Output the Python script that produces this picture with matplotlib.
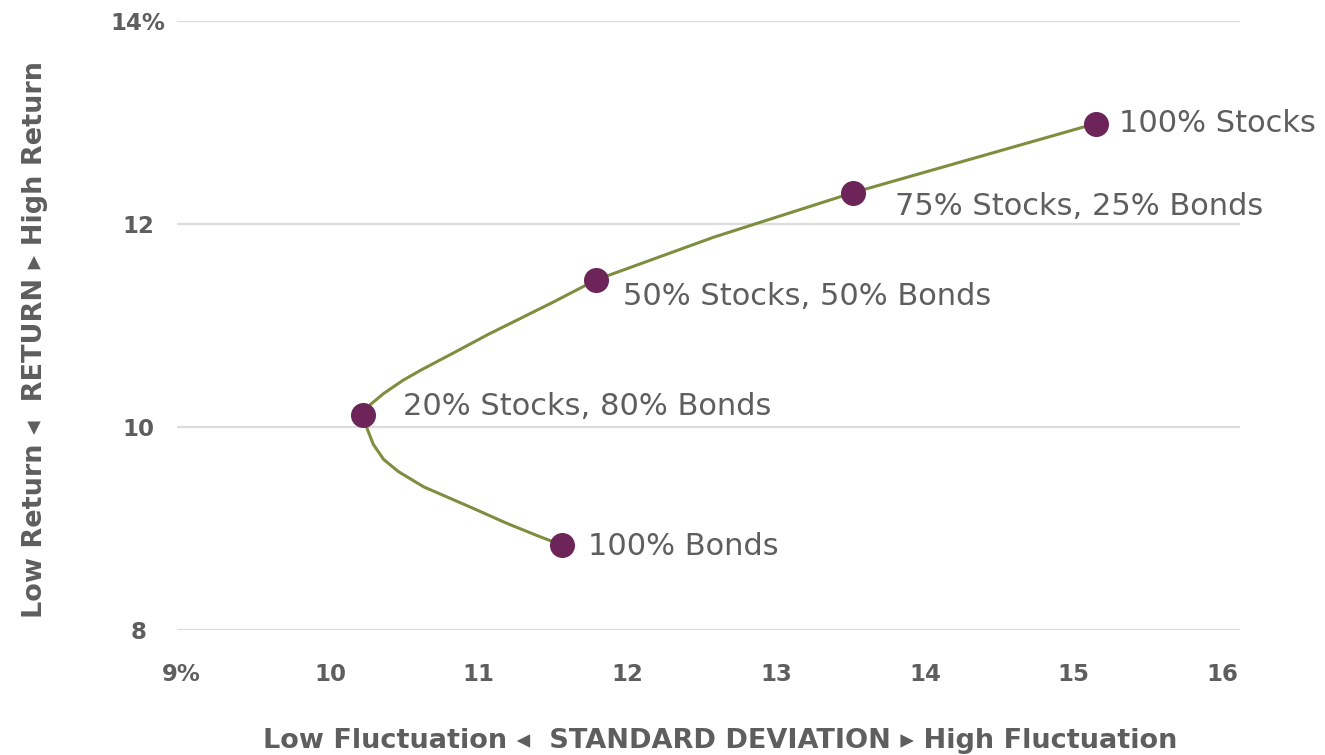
import matplotlib.pyplot as plt

# portfolio mixes (standard deviation %, return %)
labels = ["100% Bonds", "20% Stocks, 80% Bonds", "50% Stocks, 50% Bonds",
          "75% Stocks, 25% Bonds", "100% Stocks"]
mix_sd = [11.56, 10.22, 11.79, 13.52, 15.15]
mix_ret = [8.84, 10.12, 11.45, 12.31, 12.99]

# efficient frontier curve
curve_sd = [11.56, 11.50, 11.41, 11.19, 10.96, 10.74, 10.63, 10.46, 10.36,
            10.29, 10.25, 10.22, 10.27, 10.36, 10.49, 10.61, 10.83, 11.06,
            11.28, 11.50, 11.79, 12.58, 13.52, 15.15]
curve_ret = [8.84, 8.87, 8.92, 9.05, 9.20, 9.34, 9.41, 9.56, 9.68,
             9.83, 9.98, 10.12, 10.22, 10.33, 10.46, 10.56, 10.73, 10.91,
             11.07, 11.23, 11.45, 11.87, 12.31, 12.99]

xticks = [9, 10, 11, 12, 13, 14, 15, 16]
xtick_labels = ["9%", "10", "11", "12", "13", "14", "15", "16"]
yticks = [8, 10, 12, 14]
ytick_labels = ["8", "10", "12", "14%"]

# label offsets in points from each dot
offsets = [(19, -1), (29, 6), (19, -12), (30, -10), (17, 0)]

grey = "#5e5e5e"
W, H = 1325, 755
fig = plt.figure(figsize=(W / 100, H / 100), dpi=100)
ax = fig.add_axes([177 / W, 1 - 630 / H, (1240 - 177) / W, (630 - 21) / H])

ax.plot(curve_sd, curve_ret, color="#7d8f3f", lw=2.2, zorder=2,
        solid_joinstyle="round")
ax.plot(mix_sd, mix_ret, "o", color="#6c2459", ms=17, zorder=3)
for lab, x, y, off in zip(labels, mix_sd, mix_ret, offsets):
    ax.annotate(lab, (x, y), xytext=off, textcoords="offset points",
                ha="left", va="center", fontsize=22, color=grey)

ax.set_xlim(8.97, 16.12)
ax.set_ylim(8, 14)
ax.set_xticks(xticks)
ax.set_xticklabels(xtick_labels)
ax.set_yticks(yticks)
ax.set_yticklabels(ytick_labels)
ax.tick_params(length=0, labelsize=16.5, labelcolor=grey)
ax.tick_params(axis="x", pad=23.5)
ax.tick_params(axis="y", pad=28)
for t in ax.get_xticklabels() + ax.get_yticklabels():
    t.set_fontweight("bold")
for t in ax.get_yticklabels():
    t.set_ha("center")
ax.grid(axis="y", color="#dcdcdc", lw=1.6)
for s in ax.spines.values():
    s.set_visible(False)

fig.text(720 / W, 1 - 741 / H,
         "Low Fluctuation \u25c2  STANDARD DEVIATION \u25b8 High Fluctuation",
         ha="center", va="center", fontsize=19.5, fontweight="bold", color=grey)
fig.text(35 / W, 1 - 340 / H,
         "Low Return \u25c2  RETURN \u25b8 High Return",
         ha="center", va="center", rotation=90, fontsize=19.5,
         fontweight="bold", color=grey)

fig.savefig("out.png", dpi=100)
